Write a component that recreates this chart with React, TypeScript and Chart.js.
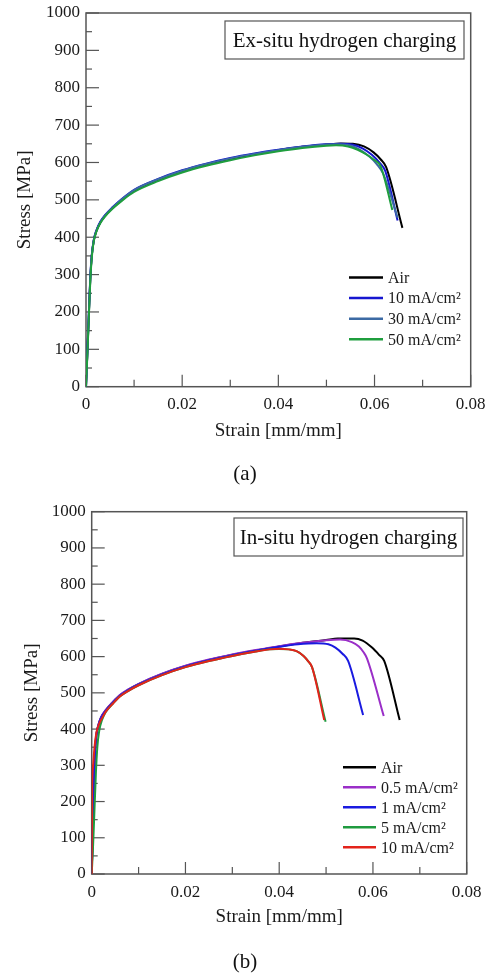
import React, { useEffect, useRef } from 'react';
import { Chart, registerables } from 'chart.js';

Chart.register(...registerables);

const SERIF = "'Liberation Serif', 'Times New Roman', Times, serif";

// ---------- shared axes ----------
const xTickValues = [0, 0.02, 0.04, 0.06, 0.08];
const yTickValues = [0, 100, 200, 300, 400, 500, 600, 700, 800, 900, 1000];
const xAxisTitle = 'Strain [mm/mm]';
const yAxisTitle = 'Stress [MPa]';

// ---------- (a) Ex-situ hydrogen charging ----------
const exTitle = 'Ex-situ hydrogen charging';
const exLabels = ['Air', '10 mA/cm²', '30 mA/cm²', '50 mA/cm²'];
const exColors = ['#000000', '#1616d0', '#3c6aa4', '#1f9e3e'];

const exAirStrain = [0, 0.0003, 0.0006, 0.0009, 0.0012, 0.0016, 0.0022, 0.003, 0.004, 0.0055, 0.0075, 0.01, 0.015, 0.02, 0.025, 0.03, 0.035, 0.04, 0.045, 0.05, 0.053, 0.0555, 0.0578, 0.0598, 0.0613, 0.0624, 0.0658];
const exAirStress = [0, 95, 195, 290, 350, 390, 418, 440, 458, 478, 500, 524, 553, 577, 595, 610, 622, 633, 642, 648, 651, 650, 643, 627, 608, 588, 425];

const ex10Strain = [0, 0.0003, 0.0006, 0.0009, 0.0012, 0.0016, 0.0022, 0.003, 0.004, 0.0055, 0.0075, 0.01, 0.015, 0.02, 0.025, 0.03, 0.035, 0.04, 0.045, 0.05, 0.053, 0.0553, 0.0575, 0.0595, 0.061, 0.0622, 0.0648];
const ex10Stress = [0, 100, 200, 295, 352, 392, 420, 442, 460, 480, 503, 527, 556, 579, 597, 612, 624, 634, 643, 649, 650, 648, 638, 620, 600, 578, 445];

const ex30Strain = [0, 0.0003, 0.0006, 0.0009, 0.0012, 0.0016, 0.0022, 0.003, 0.004, 0.0055, 0.0075, 0.01, 0.015, 0.02, 0.025, 0.03, 0.035, 0.04, 0.045, 0.05, 0.052, 0.0548, 0.057, 0.059, 0.0605, 0.0618, 0.0648];
const ex30Stress = [0, 98, 198, 292, 350, 390, 418, 440, 459, 479, 502, 526, 555, 578, 596, 611, 623, 633, 642, 648, 649, 646, 634, 615, 595, 570, 452];

const ex50Strain = [0, 0.0003, 0.0006, 0.0009, 0.0012, 0.0016, 0.0022, 0.003, 0.004, 0.0055, 0.0075, 0.01, 0.015, 0.02, 0.025, 0.03, 0.035, 0.04, 0.045, 0.05, 0.052, 0.0545, 0.0565, 0.0585, 0.0598, 0.0613, 0.0637];
const ex50Stress = [0, 90, 190, 285, 345, 388, 416, 438, 456, 476, 498, 521, 550, 573, 591, 606, 619, 630, 639, 645, 646, 643, 634, 620, 608, 589, 473];

// ---------- (b) In-situ hydrogen charging ----------
const inTitle = 'In-situ hydrogen charging';
const inLabels = ['Air', '0.5 mA/cm²', '1 mA/cm²', '5 mA/cm²', '10 mA/cm²'];
const inColors = ['#000000', '#9a2fc8', '#1a1ae0', '#1f9a3f', '#e3231b'];

const inAirStrain = [0, 0.0002, 0.0004, 0.0007, 0.001, 0.0014, 0.002, 0.003, 0.0045, 0.006, 0.008, 0.01, 0.015, 0.02, 0.025, 0.03, 0.035, 0.04, 0.045, 0.05, 0.0525, 0.056, 0.0578, 0.0598, 0.0613, 0.0624, 0.0657];
const inAirStress = [0, 110, 230, 340, 385, 410, 432, 452, 474, 493, 510, 524, 552, 574, 591, 605, 617, 628, 638, 646, 650, 650, 644, 625, 605, 588, 425];

const in05Strain = [0, 0.0002, 0.0004, 0.0007, 0.001, 0.0014, 0.002, 0.003, 0.0045, 0.006, 0.008, 0.01, 0.015, 0.02, 0.025, 0.03, 0.035, 0.04, 0.045, 0.05, 0.053, 0.0555, 0.057, 0.058, 0.0587, 0.0623];
const in05Stress = [0, 105, 225, 335, 383, 410, 433, 453, 475, 494, 511, 525, 553, 575, 592, 606, 618, 629, 638, 645, 647, 640, 628, 612, 596, 436];

const in1Strain = [0, 0.0002, 0.0004, 0.0007, 0.001, 0.0014, 0.002, 0.003, 0.0045, 0.006, 0.008, 0.01, 0.015, 0.02, 0.025, 0.03, 0.035, 0.04, 0.044, 0.048, 0.0505, 0.052, 0.0535, 0.0547, 0.0579];
const in1Stress = [0, 100, 220, 330, 380, 408, 431, 451, 473, 492, 509, 523, 551, 573, 590, 604, 616, 627, 634, 637, 634, 625, 608, 588, 439];

const in5Strain = [0, 0.0003, 0.0006, 0.0009, 0.0012, 0.0016, 0.0022, 0.003, 0.0045, 0.006, 0.008, 0.01, 0.015, 0.02, 0.025, 0.03, 0.035, 0.038, 0.04, 0.042, 0.0437, 0.0452, 0.0462, 0.047, 0.0499];
const in5Stress = [0, 80, 180, 280, 350, 395, 425, 447, 470, 490, 507, 521, 549, 571, 588, 602, 614, 620, 621, 620, 615, 602, 587, 571, 420];

const in10Strain = [0, 0.0001, 0.0003, 0.0006, 0.001, 0.0016, 0.0022, 0.003, 0.0045, 0.006, 0.008, 0.01, 0.015, 0.02, 0.025, 0.03, 0.035, 0.038, 0.04, 0.042, 0.0437, 0.0452, 0.0462, 0.047, 0.0496];
const in10Stress = [0, 240, 300, 350, 390, 415, 430, 448, 470, 490, 507, 521, 549, 571, 588, 602, 614, 620, 622, 620, 615, 602, 587, 571, 425];

type Panel = {
  canvasW: number;
  canvasH: number;
  area: { left: number; top: number; right: number; bottom: number };
  labels: string[];
  colors: string[];
  strains: number[][];
  stresses: number[][];
  title: string;
  box: { x1: number; y1: number; x2: number; y2: number };
  legend: { x1: number; x2: number; tx: number; y0: number; dy: number };
  yTitleX: number;
  xTitleY: number;
  panelLabel: string;
  panelLabelY: number;
};

const panelA: Panel = {
  canvasW: 489,
  canvasH: 490,
  area: { left: 86, top: 13, right: 470.7, bottom: 386.7 },
  labels: exLabels,
  colors: exColors,
  strains: [exAirStrain, ex10Strain, ex30Strain, ex50Strain],
  stresses: [exAirStress, ex10Stress, ex30Stress, ex50Stress],
  title: exTitle,
  box: { x1: 225, y1: 21, x2: 464, y2: 59 },
  legend: { x1: 349, x2: 383, tx: 388, y0: 277.5, dy: 20.6 },
  yTitleX: 25,
  xTitleY: 431,
  panelLabel: '(a)',
  panelLabelY: 474,
};

const panelB: Panel = {
  canvasW: 489,
  canvasH: 486,
  area: { left: 91.7, top: 21.7, right: 466.7, bottom: 384 },
  labels: inLabels,
  colors: inColors,
  strains: [inAirStrain, in05Strain, in1Strain, in5Strain, in10Strain],
  stresses: [inAirStress, in05Stress, in1Stress, in5Stress, in10Stress],
  title: inTitle,
  box: { x1: 234, y1: 28, x2: 463, y2: 66 },
  legend: { x1: 343, x2: 376, tx: 381, y0: 277.3, dy: 20 },
  yTitleX: 32,
  xTitleY: 427,
  panelLabel: '(b)',
  panelLabelY: 472,
};

function makeDecor(p: Panel) {
  return {
    id: 'decor',
    beforeDatasetsDraw(chart: any) {
      const ctx = chart.ctx as CanvasRenderingContext2D;
      const ca = chart.chartArea;
      const xs = chart.scales.x;
      const ys = chart.scales.y;
      ctx.save();
      ctx.strokeStyle = '#555555';
      ctx.lineWidth = 1.5;
      ctx.strokeRect(ca.left, ca.top, ca.right - ca.left, ca.bottom - ca.top);
      ctx.lineWidth = 1.2;
      for (let i = 0; i < xTickValues.length; i++) {
        const v = xTickValues[i];
        const px = xs.getPixelForValue(v);
        ctx.beginPath();
        ctx.moveTo(px, ca.bottom);
        ctx.lineTo(px, ca.bottom - 12);
        ctx.stroke();
        if (i < xTickValues.length - 1) {
          const m = xs.getPixelForValue((v + xTickValues[i + 1]) / 2);
          ctx.beginPath();
          ctx.moveTo(m, ca.bottom);
          ctx.lineTo(m, ca.bottom - 7);
          ctx.stroke();
        }
      }
      for (let i = 0; i < yTickValues.length; i++) {
        const v = yTickValues[i];
        const py = ys.getPixelForValue(v);
        ctx.beginPath();
        ctx.moveTo(ca.left, py);
        ctx.lineTo(ca.left + 13, py);
        ctx.stroke();
        if (i < yTickValues.length - 1) {
          const m = ys.getPixelForValue((v + yTickValues[i + 1]) / 2);
          ctx.beginPath();
          ctx.moveTo(ca.left, m);
          ctx.lineTo(ca.left + 6, m);
          ctx.stroke();
        }
      }
      ctx.restore();
    },
    afterDraw(chart: any) {
      const ctx = chart.ctx as CanvasRenderingContext2D;
      const ca = chart.chartArea;
      ctx.save();
      ctx.fillStyle = '#ffffff';
      ctx.fillRect(p.box.x1, p.box.y1, p.box.x2 - p.box.x1, p.box.y2 - p.box.y1);
      ctx.strokeStyle = '#555555';
      ctx.lineWidth = 1.2;
      ctx.strokeRect(p.box.x1, p.box.y1, p.box.x2 - p.box.x1, p.box.y2 - p.box.y1);
      ctx.fillStyle = '#111111';
      ctx.font = `21px ${SERIF}`;
      ctx.textAlign = 'center';
      ctx.textBaseline = 'middle';
      ctx.fillText(p.title, (p.box.x1 + p.box.x2) / 2, (p.box.y1 + p.box.y2) / 2 + 1);
      ctx.font = `16px ${SERIF}`;
      ctx.textAlign = 'left';
      p.labels.forEach((lab, i) => {
        const y = p.legend.y0 + i * p.legend.dy;
        ctx.strokeStyle = p.colors[i];
        ctx.lineWidth = 2.5;
        ctx.beginPath();
        ctx.moveTo(p.legend.x1, y);
        ctx.lineTo(p.legend.x2, y);
        ctx.stroke();
        ctx.fillStyle = '#1a1a1a';
        ctx.fillText(lab, p.legend.tx, y + 1);
      });
      ctx.fillStyle = '#1a1a1a';
      ctx.font = `19px ${SERIF}`;
      ctx.textAlign = 'center';
      ctx.fillText(xAxisTitle, (ca.left + ca.right) / 2, p.xTitleY);
      ctx.save();
      ctx.translate(p.yTitleX, (ca.top + ca.bottom) / 2);
      ctx.rotate(-Math.PI / 2);
      ctx.fillText(yAxisTitle, 0, 0);
      ctx.restore();
      ctx.font = `21px ${SERIF}`;
      ctx.fillStyle = '#111111';
      ctx.fillText(p.panelLabel, 245, p.panelLabelY);
      ctx.restore();
    },
  };
}

function PanelChart({ p, top }: { p: Panel; top: number }) {
  const ref = useRef<HTMLCanvasElement | null>(null);
  useEffect(() => {
    if (!ref.current) return;
    const n = p.labels.length;
    const datasets = p.labels.map((lab, i) => ({
      label: lab,
      data: p.strains[i].map((s, k) => ({ x: s, y: p.stresses[i][k] })),
      borderColor: p.colors[i],
      backgroundColor: p.colors[i],
      borderWidth: 2,
      pointRadius: 0,
      fill: false,
      cubicInterpolationMode: 'monotone' as const,
      order: n - i,
    }));
    const chart = new Chart(ref.current, {
      type: 'line',
      data: { datasets },
      options: {
        animation: false,
        responsive: false,
        devicePixelRatio: 1,
        layout: {
          padding: {
            left: 0,
            top: p.area.top,
            right: p.canvasW - p.area.right,
            bottom: 0,
          },
        },
        plugins: {
          legend: { display: false },
          tooltip: { enabled: false },
          title: { display: false },
        },
        scales: {
          x: {
            type: 'linear',
            min: 0,
            max: 0.08,
            grid: { display: false, drawTicks: false },
            border: { display: false },
            afterBuildTicks: (scale: any) => {
              scale.ticks = xTickValues.map((v) => ({ value: v }));
            },
            afterFit: (scale: any) => {
              scale.height = p.canvasH - p.area.bottom;
              scale.paddingLeft = 0;
              scale.paddingRight = 0;
            },
            ticks: {
              padding: 8,
              color: '#1a1a1a',
              font: { family: SERIF, size: 17 },
              maxRotation: 0,
              autoSkip: false,
              callback: (v: any) => (Number(v) === 0 ? '0' : Number(v).toFixed(2)),
            },
          },
          y: {
            type: 'linear',
            min: 0,
            max: 1000,
            grid: { display: false, drawTicks: false },
            border: { display: false },
            afterBuildTicks: (scale: any) => {
              scale.ticks = yTickValues.map((v) => ({ value: v }));
            },
            afterFit: (scale: any) => {
              scale.width = p.area.left;
              scale.paddingTop = 0;
              scale.paddingBottom = 0;
            },
            ticks: {
              padding: 6,
              color: '#1a1a1a',
              font: { family: SERIF, size: 17 },
              autoSkip: false,
              callback: (v: any) => String(v),
            },
          },
        },
      },
      plugins: [makeDecor(p)],
    });
    return () => chart.destroy();
  }, [p]);
  return (
    <canvas
      ref={ref}
      width={p.canvasW}
      height={p.canvasH}
      style={{ position: 'absolute', left: 0, top, width: p.canvasW, height: p.canvasH }}
    />
  );
}

export default function App() {
  return (
    <div style={{ position: 'absolute', left: 0, top: 0, width: 489, height: 976, background: '#ffffff' }}>
      <PanelChart p={panelA} top={0} />
      <PanelChart p={panelB} top={490} />
    </div>
  );
}
